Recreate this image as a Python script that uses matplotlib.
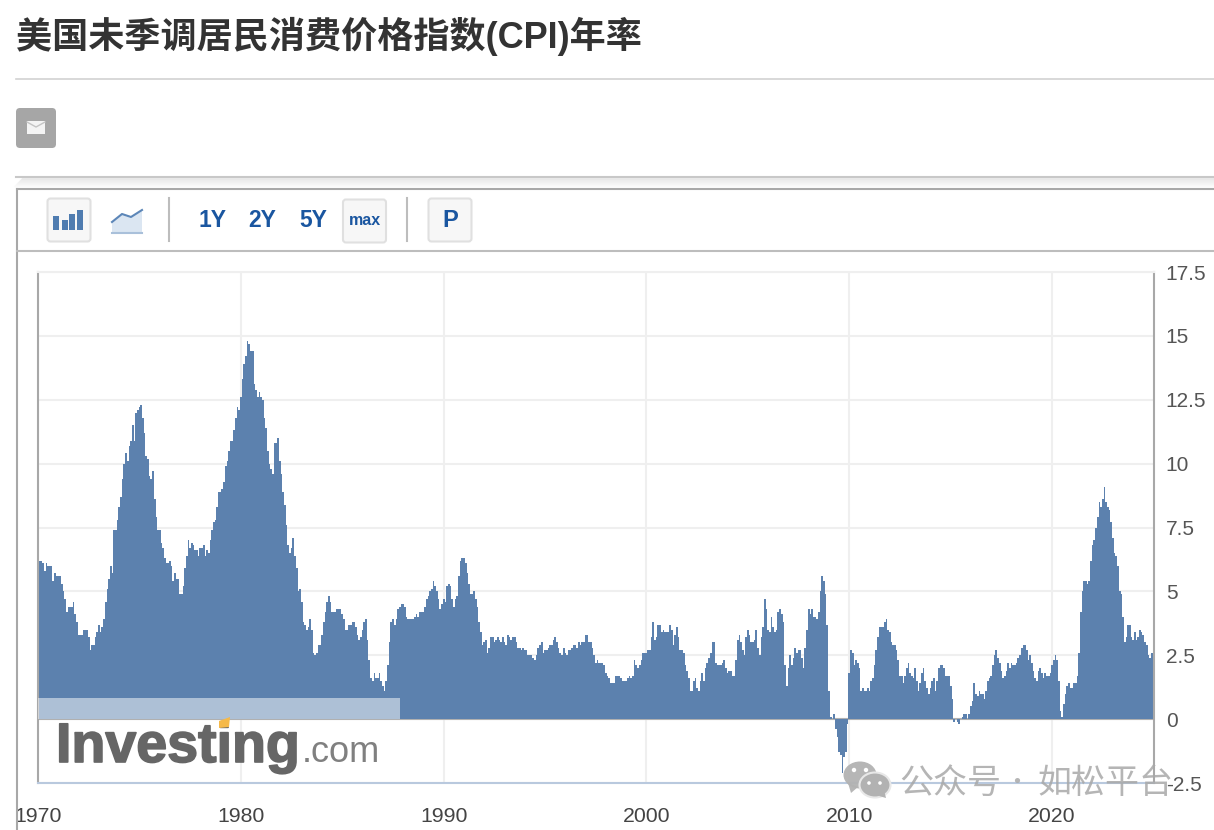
import numpy as np
import matplotlib
matplotlib.use("Agg")
import matplotlib.pyplot as plt
import matplotlib.patheffects as pe
from matplotlib.patches import FancyBboxPatch, Rectangle, Ellipse, Polygon

plt.rcParams["font.family"] = ["Liberation Sans", "Noto Sans CJK SC", "DejaVu Sans"]

title = "美国未季调居民消费价格指数(CPI)年率"
watermark_left = "公众号"
watermark_right = "如松平台"
year_ticks = [1970, 1980, 1990, 2000, 2010, 2020]
value_ticks = [-2.5, 0, 2.5, 5, 7.5, 10, 12.5, 15, 17.5]
value_labels = ["-2.5", "0", "2.5", "5", "7.5", "10", "12.5", "15", "17.5"]

# monthly values, first one is Nov 1969
cpi_1969 = [6.2, 6.2]
cpi_1970s = [
    6.2, 6.1, 5.8, 6.1, 6.0, 6.0, 6.0, 5.4, 5.7, 5.6, 5.6, 5.6,
    5.3, 5.0, 4.7, 4.2, 4.4, 4.4, 4.4, 4.6, 4.1, 3.8, 3.3, 3.3,
    3.3, 3.5, 3.5, 3.5, 3.2, 2.7, 2.9, 2.9, 3.2, 3.4, 3.7, 3.4,
    3.6, 3.9, 4.6, 5.1, 5.5, 6.0, 5.7, 7.4, 7.4, 7.8, 8.3, 8.7,
    9.4, 10.0, 10.4, 10.1, 10.7, 10.9, 11.5, 10.9, 12.0, 12.1, 12.2, 12.3,
    11.8, 11.2, 10.3, 10.2, 9.5, 9.4, 9.7, 8.6, 7.9, 7.4, 7.4, 6.9,
    6.7, 6.3, 6.1, 6.1, 6.2, 6.0, 5.4, 5.7, 5.5, 5.5, 4.9, 4.9,
    5.2, 5.9, 6.4, 7.0, 6.7, 6.9, 6.8, 6.6, 6.6, 6.4, 6.7, 6.7,
    6.8, 6.4, 6.6, 6.5, 7.0, 7.4, 7.7, 7.8, 8.3, 8.9, 8.9, 9.0,
    9.3, 9.9, 10.1, 10.5, 10.9, 10.9, 11.3, 11.8, 12.2, 12.1, 12.6, 13.3,
]
cpi_1980s = [
    13.9, 14.2, 14.8, 14.7, 14.4, 14.4, 13.1, 12.9, 12.6, 12.8, 12.6, 12.5,
    11.8, 11.4, 10.5, 10.0, 9.8, 9.6, 10.8, 10.8, 11.0, 10.1, 9.6, 8.9,
    8.4, 7.6, 6.8, 6.5, 6.7, 7.1, 6.4, 5.9, 5.0, 5.1, 4.6, 3.8,
    3.7, 3.5, 3.6, 3.9, 3.5, 2.6, 2.5, 2.6, 2.9, 2.9, 3.3, 3.8,
    4.2, 4.6, 4.8, 4.6, 4.2, 4.2, 4.2, 4.3, 4.3, 4.3, 4.1, 3.9,
    3.5, 3.5, 3.7, 3.7, 3.8, 3.8, 3.6, 3.3, 3.1, 3.2, 3.5, 3.8,
    3.9, 3.1, 2.3, 1.6, 1.5, 1.8, 1.6, 1.6, 1.8, 1.5, 1.3, 1.1,
    1.5, 2.1, 3.0, 3.8, 3.9, 3.7, 3.9, 4.3, 4.4, 4.5, 4.5, 4.4,
    4.0, 3.9, 3.9, 3.9, 3.9, 4.0, 4.1, 4.0, 4.2, 4.2, 4.2, 4.4,
    4.7, 4.8, 5.0, 5.1, 5.4, 5.2, 5.0, 4.7, 4.3, 4.5, 4.7, 4.6,
]
cpi_1990s = [
    5.2, 5.3, 5.2, 4.7, 4.4, 4.7, 4.8, 5.6, 6.2, 6.3, 6.3, 6.1,
    5.7, 5.3, 4.9, 4.9, 5.0, 4.7, 4.4, 3.8, 3.4, 2.9, 3.0, 3.1,
    2.6, 2.8, 3.2, 3.2, 3.0, 3.1, 3.2, 3.1, 3.0, 3.2, 3.0, 2.9,
    3.3, 3.2, 3.1, 3.2, 3.2, 3.0, 2.8, 2.8, 2.7, 2.8, 2.7, 2.7,
    2.5, 2.5, 2.5, 2.4, 2.3, 2.5, 2.8, 2.9, 3.0, 2.6, 2.7, 2.7,
    2.8, 2.9, 2.9, 3.1, 3.2, 3.0, 2.8, 2.6, 2.5, 2.8, 2.6, 2.5,
    2.7, 2.7, 2.8, 2.9, 2.9, 2.8, 3.0, 2.9, 3.0, 3.0, 3.3, 3.3,
    3.0, 3.0, 2.8, 2.5, 2.2, 2.3, 2.2, 2.2, 2.2, 2.1, 1.8, 1.7,
    1.6, 1.4, 1.4, 1.4, 1.7, 1.7, 1.7, 1.6, 1.5, 1.5, 1.5, 1.6,
    1.7, 1.6, 1.7, 2.3, 2.1, 2.0, 2.1, 2.3, 2.6, 2.6, 2.6, 2.7,
]
cpi_2000s = [
    2.7, 3.2, 3.8, 3.1, 3.2, 3.7, 3.7, 3.4, 3.5, 3.4, 3.4, 3.4,
    3.7, 3.5, 2.9, 3.3, 3.6, 3.2, 2.7, 2.7, 2.6, 2.1, 1.9, 1.6,
    1.1, 1.1, 1.5, 1.6, 1.2, 1.1, 1.5, 1.8, 1.5, 2.0, 2.2, 2.4,
    2.6, 3.0, 3.0, 2.2, 2.1, 2.1, 2.1, 2.2, 2.3, 2.0, 1.8, 1.9,
    1.9, 1.7, 1.7, 2.3, 3.1, 3.3, 3.0, 2.7, 2.5, 3.2, 3.5, 3.3,
    3.0, 3.0, 3.1, 3.5, 2.8, 2.5, 3.2, 3.6, 4.7, 4.3, 3.5, 3.4,
    4.0, 3.6, 3.4, 3.5, 4.2, 4.3, 4.1, 3.8, 2.1, 1.3, 2.0, 2.5,
    2.1, 2.4, 2.8, 2.6, 2.7, 2.7, 2.4, 2.0, 2.8, 3.5, 4.3, 4.1,
    4.3, 4.0, 4.0, 3.9, 4.2, 5.0, 5.6, 5.4, 4.9, 3.7, 1.1, 0.1,
    0.0, 0.2, -0.4, -0.7, -1.3, -1.4, -2.1, -1.5, -1.3, -0.2, 1.8, 2.7,
]
cpi_2010s = [
    2.6, 2.1, 2.3, 2.2, 2.0, 1.1, 1.2, 1.1, 1.1, 1.2, 1.1, 1.5,
    1.6, 2.1, 2.7, 3.2, 3.6, 3.6, 3.6, 3.8, 3.9, 3.5, 3.4, 3.0,
    2.9, 2.9, 2.7, 2.3, 1.7, 1.7, 1.4, 1.7, 2.0, 2.2, 1.8, 1.7,
    1.6, 2.0, 1.5, 1.1, 1.4, 1.8, 2.0, 1.5, 1.2, 1.0, 1.2, 1.5,
    1.6, 1.1, 1.5, 2.0, 2.1, 2.1, 2.0, 1.7, 1.7, 1.7, 1.3, 0.8,
    -0.1, 0.0, -0.1, -0.2, 0.0, 0.1, 0.2, 0.2, 0.0, 0.2, 0.5, 0.7,
    1.4, 1.0, 0.9, 1.1, 1.0, 1.0, 0.8, 1.1, 1.5, 1.6, 1.7, 2.1,
    2.5, 2.7, 2.4, 2.2, 1.9, 1.6, 1.7, 1.9, 2.2, 2.0, 2.2, 2.1,
    2.1, 2.2, 2.4, 2.5, 2.8, 2.9, 2.9, 2.7, 2.3, 2.5, 2.2, 1.9,
    1.6, 1.5, 1.9, 2.0, 1.8, 1.6, 1.8, 1.7, 1.7, 1.8, 2.1, 2.3,
]
cpi_2020s = [
    2.5, 2.3, 1.5, 0.3, 0.1, 0.6, 1.0, 1.3, 1.4, 1.2, 1.2, 1.4,
    1.4, 1.7, 2.6, 4.2, 5.0, 5.4, 5.4, 5.3, 5.4, 6.2, 6.8, 7.0,
    7.5, 7.9, 8.5, 8.3, 8.6, 9.1, 8.5, 8.3, 8.2, 7.7, 7.1, 6.5,
    6.4, 6.0, 5.0, 4.9, 4.0, 3.0, 3.2, 3.7, 3.7, 3.2, 3.1, 3.4,
    3.1, 3.2, 3.5, 3.4, 3.3, 3.0, 2.9, 2.5, 2.4, 2.6,
]

cpi = np.array(cpi_1969 + cpi_1970s + cpi_1980s + cpi_1990s + cpi_2000s + cpi_2010s + cpi_2020s)
# points sit about two months after the month they describe (release date)
dates = 1969 + (10 + np.arange(len(cpi)) + 2.05) / 12

W, H = 1214, 830
fig = plt.figure(figsize=(W / 100, H / 100), dpi=100, facecolor="white")

# chart area
ax = fig.add_axes([37.5 / W, (H - 783) / H, (1154 - 37.5) / W, 511 / H], zorder=1)
ax.set_xlim(1969.975, 2025.03)
ax.set_ylim(-2.5, 17.5)
ax.set_xticks(year_ticks)
ax.set_xticklabels([str(y) for y in year_ticks])
ax.set_yticks(value_ticks)
ax.set_yticklabels(value_labels)
ax.yaxis.tick_right()
ax.tick_params(axis="y", length=0, pad=8.5, labelsize=15, labelcolor="#555555")
ax.tick_params(axis="x", length=0, pad=17, labelsize=15.3, labelcolor="#444444")
ax.set_axisbelow(True)
ax.grid(True, color="#efefef", linewidth=1.5)
ax.axhline(0, color="#b0b0b0", linewidth=1.5, zorder=1)
ax.bar(dates, cpi, width=1 / 12, color="#5c81ae", linewidth=0, antialiased=False, zorder=2)
for side in ["left", "right"]:
    ax.spines[side].set_color("#a8a8a8")
    ax.spines[side].set_linewidth(1.5)
ax.spines["top"].set_color("#efefef")
ax.spines["top"].set_linewidth(1.5)
ax.spines["bottom"].set_color("#b9c9de")
ax.spines["bottom"].set_linewidth(1.5)

# page furniture in pixel coordinates
ov = fig.add_axes([0, 0, 1, 1], zorder=5)
ov.set_xlim(0, W)
ov.set_ylim(H, 0)
ov.axis("off")
ov.patch.set_alpha(0)

ov.text(16, 36, title, fontsize=26, fontweight="bold", color="#333333", va="center", ha="left")
ov.plot([16, W], [79, 79], color="#d2d2d2", lw=1.2)

# mail button
ov.add_patch(FancyBboxPatch((19, 111), 34, 34, boxstyle="round,pad=3,rounding_size=4", fc="#a6a6a6", ec="none"))
ov.add_patch(Rectangle((27, 121), 18, 13, fc="#f4f4f4", ec="none"))
ov.plot([27, 36, 45], [122, 127, 122], color="#c4c4c4", lw=1)

# shadow strip above the chart box
for i in range(9):
    ov.plot([22 - i, W], [178 + i, 178 + i], color="#000000", alpha=0.07 - i * 0.007, lw=1)
ov.plot([16, W], [177, 177], color="#c8c8c8", lw=1.5)

# chart box
ov.plot([17, W], [189, 189], color="#a8a8a8", lw=1.5)
ov.plot([17, 17], [189, H], color="#a8a8a8", lw=1.5)
ov.plot([17, W], [251, 251], color="#bdbdbd", lw=1.5)


def button(x0, y0, w, h):
    ov.add_patch(FancyBboxPatch((x0 + 3, y0 + 3), w - 6, h - 6, boxstyle="round,pad=3,rounding_size=3",
                                fc="#f7f7f7", ec="#e0e0e0", lw=1.5))


button(47.5, 198.5, 43, 43)
button(343, 199.5, 43, 43)
button(428.5, 198.5, 43, 43)

# bar icon
for x0, top in [(53, 216), (62, 220), (69, 214), (77, 210)]:
    ov.add_patch(Rectangle((x0, top), 6, 230 - top, fc="#4f7cb0", ec="none"))

# line icon
ov.add_patch(Polygon([(112, 223), (122, 215), (131, 218), (142, 211), (142, 233), (112, 233)], fc="#dbe6f2", ec="none"))
ov.plot([112, 122, 131, 142], [222, 214, 217, 210], color="#5c86b8", lw=1.5)
ov.plot([112, 142], [233, 233], color="#a9c0da", lw=1.5)

ov.plot([169, 169], [198, 241], color="#bdbdbd", lw=1.5)
ov.plot([407, 407], [198, 241], color="#bdbdbd", lw=1.5)

for label, cx in [("1Y", 212), ("2Y", 262), ("5Y", 313)]:
    ov.text(cx, 220, label, fontsize=16.5, fontweight="bold", color="#1a56a0", ha="center", va="center")
ov.text(364.5, 220.5, "max", fontsize=11.5, fontweight="bold", color="#1a56a0", ha="center", va="center")
ov.text(450, 220, "P", fontsize=17, fontweight="bold", color="#1a56a0", ha="center", va="center")

# investing.com logo band
ov.add_patch(Rectangle((38, 698), 362, 21, fc="white", alpha=0.5, ec="none"))
ov.text(56, 762, "Investing", fontsize=40, fontweight="bold", color="#666666", ha="left", va="baseline",
        path_effects=[pe.withStroke(linewidth=1.2, foreground="#666666")])
ov.text(302, 762, ".com", fontsize=26, color="#808080", ha="left", va="baseline")
ov.add_patch(Polygon([(219, 721), (230, 717), (229, 727), (219, 728)], fc="#f5b949", ec="none", zorder=4))

# wechat watermark
wm = "#b2b2b2"
ov.add_patch(Ellipse((860, 775), 33, 27, fc=wm, ec="none", alpha=0.95))
ov.add_patch(Polygon([(848, 783), (851, 793), (858, 787)], fc=wm, ec="none", alpha=0.95))
ov.add_patch(Ellipse((875, 785), 31, 25, fc=wm, ec="#e8e8e8", lw=1.5))
ov.add_patch(Polygon([(879, 796), (886, 798), (884, 790)], fc=wm, ec="none"))
for cx, cy, r in [(854, 770, 2.2), (866, 770, 2.2), (869, 783, 1.8), (880, 783, 1.8)]:
    ov.add_patch(Ellipse((cx, cy), 2 * r, 2 * r, fc="white", ec="none"))
wm_font = ["Noto Sans CJK SC", "DejaVu Sans"]
ov.text(899, 783, watermark_left, fontsize=24.5, color="#a8a8a8", alpha=0.85, family=wm_font, ha="left", va="center")
ov.text(1017, 783, "·", fontsize=18, color="#a8a8a8", alpha=0.85, family=wm_font, ha="center", va="center")
ov.text(1037, 783, watermark_right, fontsize=24.5, color="#a8a8a8", alpha=0.85, family=wm_font, ha="left", va="center")

fig.savefig("out.png", dpi=100)
